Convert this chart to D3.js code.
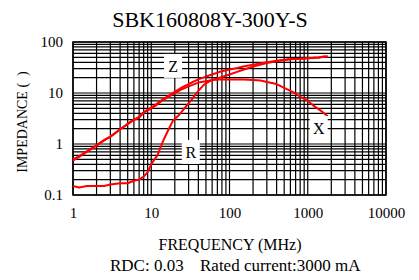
<!DOCTYPE html>
<html>
<head>
<meta charset="utf-8">
<script src="https://cdn.jsdelivr.net/npm/d3@7"></script>
<style>
  html, body { margin: 0; padding: 0; background: #fff; }
  svg { display: block; }
  text { font-family: "Liberation Serif", "Times New Roman", serif; fill: #000; }
</style>
</head>
<body>
<svg id="chart" width="419" height="280"></svg>
<script>
// ---- data ----
const title = "SBK160808Y-300Y-S";
const xTickValues = [1, 10, 100, 1000, 10000];
const yTickValues = [0.1, 1, 10, 100];
const xTitle = "FREQUENCY (MHz)";
const yTitle = "IMPEDANCE (  )";
const footerLeft = "RDC: 0.03";
const footerRight = "Rated current:3000 mA";

const zFreq = [1, 1.2, 1.5, 2, 2.5, 3, 4, 5, 6, 7, 8, 10, 12, 14, 17, 20, 25, 30, 40, 50, 60, 75, 100, 125, 150, 200, 300, 400, 600, 800, 1000, 1400, 1600, 1800];
const zVals = [0.5, 0.58, 0.72, 0.95, 1.2, 1.4, 1.95, 2.5, 3.0, 3.4, 4.2, 5.2, 6.3, 7.5, 9.0, 10.5, 13, 15, 18.5, 21, 23, 26, 29, 31, 33, 36, 40, 43, 46.5, 47, 48, 49.5, 52, 52];

const rFreq = [1, 1.2, 1.5, 2, 2.5, 3, 4, 5, 6, 7, 8, 9, 10, 11, 12, 14, 16, 19, 23, 28, 33, 40, 46, 50, 60, 75, 100, 125, 150, 200, 300, 400, 600, 800, 1000, 1400, 1600, 1800];
const rVals = [0.15, 0.14, 0.15, 0.15, 0.15, 0.16, 0.17, 0.17, 0.19, 0.2, 0.23, 0.28, 0.4, 0.5, 0.6, 1.1, 1.7, 2.9, 3.8, 5.5, 7.5, 11, 14, 15.5, 18, 20, 23, 26, 28.5, 33, 38.5, 42, 46, 47, 48, 49.5, 51.5, 52];

const xFreq = [1, 1.2, 1.5, 2, 2.5, 3, 4, 5, 6, 7, 8, 10, 12, 14, 17, 20, 25, 30, 40, 50, 60, 75, 100, 150, 200, 250, 300, 400, 500, 650, 830, 1000, 1230, 1500, 1800];
const xVals = [0.47, 0.56, 0.7, 0.93, 1.18, 1.38, 1.92, 2.45, 2.95, 3.3, 4.1, 5.0, 6.0, 7.2, 8.6, 10, 12, 13.5, 16, 17, 18, 18.3, 18.3, 18.3, 18, 17.6, 16.5, 15, 12.6, 10.4, 8.2, 7.0, 5.4, 4.4, 3.5];

const seriesLabels = ["Z", "R", "X"];
const labelFreq = [19, 32, 1380];
const labelVals = [34, 0.7, 2.06];

// ---- layout ----
const svg = d3.select("#chart");
const mLeft = 73, mRight = 386, mTop = 42, mBottom = 195;

const x = d3.scaleLog().domain([1, 10000]).range([mLeft, mRight]);
const y = d3.scaleLog().domain([0.1, 100]).range([mBottom, mTop]);

// grid
const xGrid = [];
for (let d = 1; d < 10000; d *= 10) for (let m = 1; m < 10; m++) xGrid.push(d * m);
xGrid.push(10000);
const yGrid = [];
for (let d = 0.1; d < 99; d *= 10) for (let m = 1; m < 10; m++) yGrid.push(+(d * m).toPrecision(3));
yGrid.push(100);

const grid = svg.append("g");
grid.selectAll("line.v").data(xGrid).enter().append("line")
  .attr("x1", d => x(d)).attr("x2", d => x(d))
  .attr("y1", mTop).attr("y2", mBottom)
  .attr("stroke", "#000").attr("stroke-width", 1.2);
grid.selectAll("line.h").data(yGrid).enter().append("line")
  .attr("y1", d => y(d)).attr("y2", d => y(d))
  .attr("x1", mLeft).attr("x2", mRight)
  .attr("stroke", "#000").attr("stroke-width", 1.2);

svg.append("rect").attr("x", mLeft).attr("y", mTop)
  .attr("width", mRight - mLeft).attr("height", mBottom - mTop)
  .attr("fill", "none").attr("stroke", "#000").attr("stroke-width", 1.5);

// axes
const xAxis = d3.axisBottom(x).tickValues(xTickValues).tickSize(0).tickPadding(12)
  .tickFormat(d3.format("d"));
const gx = svg.append("g").attr("transform", `translate(0,${mBottom})`).call(xAxis);
gx.select(".domain").remove();
gx.selectAll("text").style("font-family", '"Liberation Serif", serif').style("font-size", "15px");

const yAxis = d3.axisLeft(y).tickValues(yTickValues).tickSize(0).tickPadding(10)
  .tickFormat(d => d < 1 ? String(d) : d3.format("d")(d));
const gy = svg.append("g").attr("transform", `translate(${mLeft},0)`).call(yAxis);
gy.select(".domain").remove();
gy.selectAll("text").style("font-family", '"Liberation Serif", serif').style("font-size", "15px");

// curves
const line = d3.line().x(d => x(d[0])).y(d => y(d[1])).curve(d3.curveLinear);
const series = [
  d3.zip(zFreq, zVals),
  d3.zip(rFreq, rVals),
  d3.zip(xFreq, xVals)
];
svg.append("g").selectAll("path").data(series).enter().append("path")
  .attr("d", line)
  .attr("fill", "none").attr("stroke", "#ff0000").attr("stroke-width", 2)
  .attr("stroke-linejoin", "round");

// series labels with white boxes
const lab = svg.append("g").selectAll("g").data(seriesLabels).enter().append("g")
  .attr("transform", (d, i) => `translate(${x(labelFreq[i])},${y(labelVals[i])})`);
lab.append("rect").attr("x", -9).attr("y", -12).attr("width", 18).attr("height", 24).attr("fill", "#fff");
lab.append("text").attr("text-anchor", "middle").attr("dy", "0.35em")
  .style("font-size", "16px").text(d => d);

// titles
svg.append("text").attr("x", 210).attr("y", 27).attr("text-anchor", "middle")
  .style("font-size", "22px").text(title);
svg.append("text").attr("transform", "translate(27,122) rotate(-90)").attr("text-anchor", "middle")
  .style("font-size", "14px").style("white-space", "pre").text(yTitle);
svg.append("text").attr("x", 230).attr("y", 250).attr("text-anchor", "middle")
  .style("font-size", "16px").text(xTitle);
svg.append("text").attr("x", 110).attr("y", 271).style("font-size", "17px").text(footerLeft);
svg.append("text").attr("x", 200).attr("y", 271).style("font-size", "17px").text(footerRight);
</script>
</body>
</html>
